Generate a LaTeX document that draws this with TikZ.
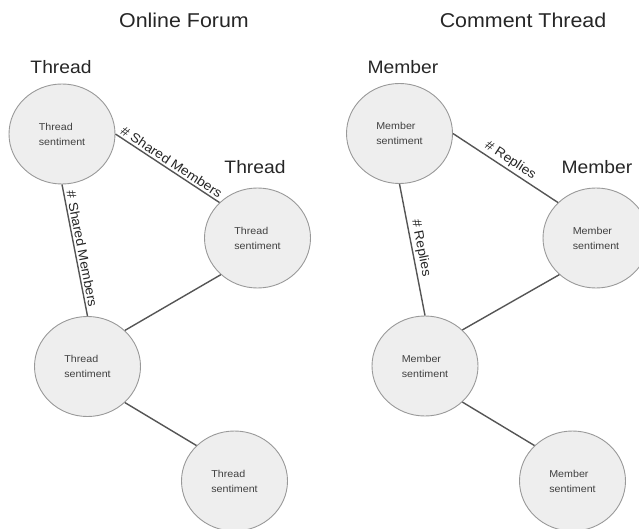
\documentclass[tikz,border=0pt]{standalone}
\usepackage{fontspec}
\setmainfont{Liberation Sans}[FakeStretch=1.07]
\usetikzlibrary{shapes.geometric}
\definecolor{nodefill}{HTML}{EEEEEE}
\definecolor{nodeline}{HTML}{999999}
\definecolor{edgeline}{HTML}{555555}
\definecolor{inktext}{HTML}{262626}
\definecolor{smalltext}{HTML}{404040}
\tikzset{
  sentbox/.style={ellipse, draw=nodeline, fill=nodefill, line width=0.9pt,
    minimum width=106pt, minimum height=100pt, inner sep=0pt,
    align=left, text=smalltext,
    font=\fontsize{10}{15}\selectfont},
  heading/.style={text=inktext, font=\fontsize{20}{24}\selectfont},
  tag/.style={text=inktext, font=\fontsize{18}{22}\selectfont},
  link/.style={draw=edgeline, line width=1.4pt},
  linklabel/.style={sloped, above=1pt, text=inktext, inner sep=1pt,
    font=\fontsize{13}{15}\selectfont}
}
\begin{document}
\begin{tikzpicture}[x=1pt, y=-1pt]
\useasboundingbox (0,0) rectangle (639,529);

% ---- left: online forum ----
\node[heading] (titleL) at (184,20) {Online Forum};
\node[tag] (tagL1) at (61,67) {Thread};
\node[tag] (tagL2) at (255,167) {Thread};

\node[sentbox] (L1) at (62,134) {Thread\\sentiment};
\node[sentbox] (L2) at (257.5,238) {Thread\\sentiment};
\node[sentbox] (L3) at (87.5,366.5) {Thread\\sentiment};
\node[sentbox] (L4) at (234.5,481) {Thread\\sentiment};

\draw[link] (L1.east) -- node[linklabel] {\# Shared Members} (L2.137);
\draw[link] (L1.south) -- node[linklabel] {\# Shared Members} (L3.north);
\draw[link] (L2.225) -- (L3.44);
\draw[link] (L3.-44) -- (L4.137);

% ---- right: comment thread ----
\node[heading] (titleR) at (523,20) {Comment Thread};
\node[tag] (tagR1) at (403,67) {Member};
\node[tag] (tagR2) at (597,167) {Member};

\node[sentbox] (R1) at (399.5,133.5) {Member\\sentiment};
\node[sentbox] (R2) at (596,238) {Member\\sentiment};
\node[sentbox] (R3) at (425,366) {Member\\sentiment};
\node[sentbox] (R4) at (572.5,481) {Member\\sentiment};

\draw[link] (R1.east) -- node[linklabel] {\# Replies} (R2.137);
\draw[link] (R1.south) -- node[linklabel] {\# Replies} (R3.north);
\draw[link] (R2.225) -- (R3.44);
\draw[link] (R3.-44) -- (R4.137);
\end{tikzpicture}
\end{document}
